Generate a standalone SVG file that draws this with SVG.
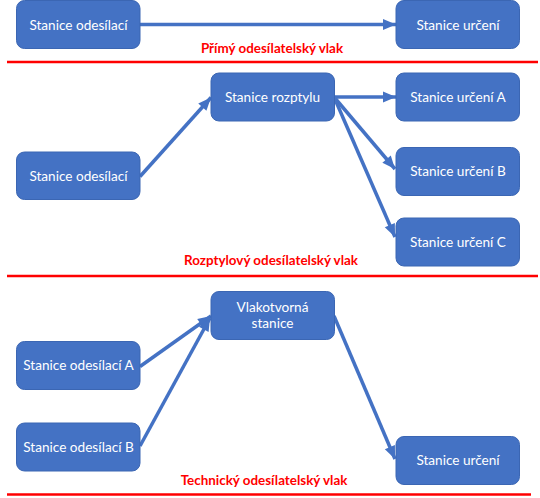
<svg xmlns="http://www.w3.org/2000/svg" width="540" height="498" viewBox="0 0 540 498">
<defs>
<style>
.box{fill:#4472C4;stroke:#3B66B3;stroke-width:1}
.t{font-family:Lato,"Liberation Sans",sans-serif;font-size:13.6px;fill:#FFFFFF;text-anchor:middle}
.lbl{font-family:Lato,"Liberation Sans",sans-serif;font-size:13.4px;font-weight:bold;fill:#FF0000;text-anchor:middle}
.sep{stroke:#FF0000;stroke-width:2.6}
.c{stroke:#4472C4;stroke-width:3.5;fill:none;marker-end:url(#ah)}
</style>
<marker id="ah" markerUnits="userSpaceOnUse" markerWidth="16" markerHeight="16" viewBox="0 0 16 16" refX="14" refY="8" orient="auto">
<path d="M1,2.5 L14,8 L1,13.5 Z" fill="#4472C4"/>
</marker>
</defs>
<rect width="540" height="498" fill="#FFFFFF"/>
<g id="separators">
<line class="sep" x1="7" y1="62" x2="538" y2="62"/>
<line class="sep" x1="7" y1="276" x2="538" y2="276"/>
<line class="sep" x1="7" y1="494.5" x2="531" y2="494.5"/>
</g>
<g id="connectors">
<line class="c" x1="140" y1="24.5" x2="396" y2="24.5"/>
<line class="c" x1="140" y1="176.5" x2="211" y2="97.5"/>
<line class="c" x1="334" y1="97" x2="396" y2="97"/>
<line class="c" x1="334" y1="97" x2="395" y2="169"/>
<line class="c" x1="334" y1="97" x2="395" y2="237"/>
<line class="c" x1="140" y1="366.5" x2="211" y2="316"/>
<line class="c" x1="140" y1="446" x2="210" y2="318"/>
<line class="c" x1="334" y1="316" x2="395" y2="459"/>
</g>
<g id="n1"><rect class="box" x="16.5" y="0.5" width="123.5" height="48" rx="8"/><text class="t" x="78.5" y="29.5">Stanice odesílací</text></g>
<g id="n2"><rect class="box" x="396" y="0.5" width="123.5" height="48" rx="8"/><text class="t" x="458" y="29.5">Stanice určení</text></g>
<g id="label1"><text class="lbl" x="272" y="53">Přímý odesílatelský vlak</text></g>
<g id="n3"><rect class="box" x="16.5" y="152" width="123.5" height="47.5" rx="8"/><text class="t" x="78.5" y="180.5">Stanice odesílací</text></g>
<g id="n4"><rect class="box" x="211" y="73" width="123.5" height="48" rx="8"/><text class="t" x="272.5" y="101.5">Stanice rozptylu</text></g>
<g id="n5"><rect class="box" x="396" y="73" width="123.5" height="48" rx="8"/><text class="t" x="458" y="101.5">Stanice určení A</text></g>
<g id="n6"><rect class="box" x="396" y="147.5" width="123.5" height="48" rx="8"/><text class="t" x="458" y="176">Stanice určení B</text></g>
<g id="n7"><rect class="box" x="396" y="218" width="123.5" height="48" rx="8"/><text class="t" x="458" y="246.5">Stanice určení C</text></g>
<g id="label2"><text class="lbl" x="271" y="265">Rozptylový odesílatelský vlak</text></g>
<g id="n8"><rect class="box" x="211" y="291.5" width="123.5" height="48" rx="8"/><text class="t" x="272.5" y="312">Vlakotvorná</text><text class="t" x="272.5" y="328">stanice</text></g>
<g id="n9"><rect class="box" x="16.5" y="341.5" width="123.5" height="48" rx="8"/><text class="t" x="78.5" y="370">Stanice odesílací A</text></g>
<g id="n10"><rect class="box" x="16.5" y="423" width="123.5" height="48" rx="8"/><text class="t" x="78.5" y="451.5">Stanice odesílací B</text></g>
<g id="n11"><rect class="box" x="396" y="436.5" width="123.5" height="48" rx="8"/><text class="t" x="458" y="465">Stanice určení</text></g>
<g id="label3"><text class="lbl" x="264" y="485">Technický odesílatelský vlak</text></g>
</svg>
